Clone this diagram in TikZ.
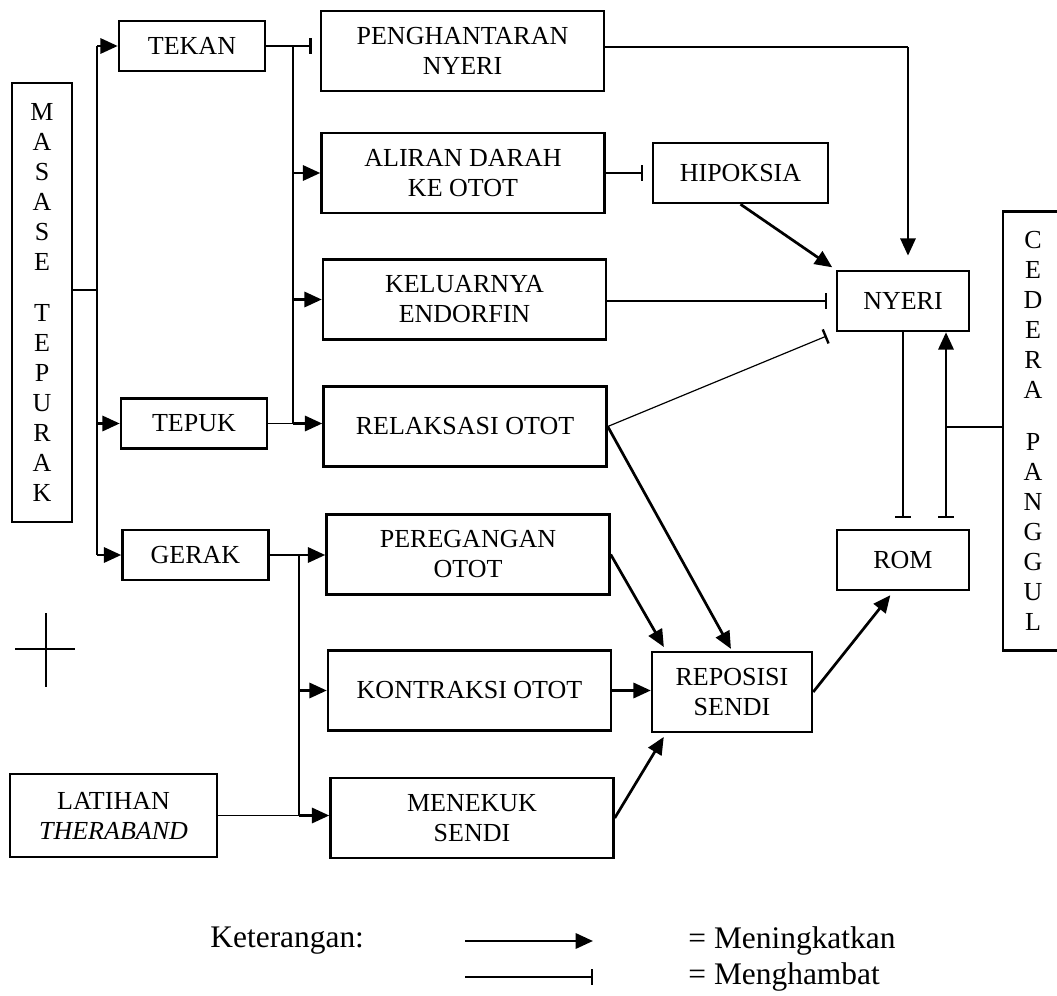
\documentclass[tikz,border=0pt]{standalone}
\usepackage{fontspec}
\setmainfont{Liberation Serif}
\usetikzlibrary{arrows.meta}

\begin{document}
\begin{tikzpicture}[x=0.4615pt, y=-0.4615pt,
    baseline={(current bounding box.center)},
    box/.style={draw, line width=1.15pt, align=center, inner sep=1pt,
        font=\fontsize{12}{13.85}\selectfont},
    tall/.style={box, minimum width=27.7pt, minimum height=202.6pt},
    small/.style={box, minimum width=67.4pt, minimum height=23.1pt},
    big/.style={box, minimum width=130.6pt, minimum height=36.9pt},
    mid/.style={box, minimum width=60.9pt, minimum height=27.7pt},
    thk/.style={line width=1.25pt},
    thn/.style={line width=0.55pt},
    inc/.style={thk, -{Triangle[length=8pt, width=7pt]}},
    inh/.style={thn, -{Bar[width=7pt, line width=1.1pt]}, shorten >=4pt},
    legend/.style={inner sep=0pt, anchor=west, font=\fontsize{14.5}{17}\selectfont}]
    \path[use as bounding box, clip] (0,0) rectangle (1057,996);

    % kotak kiri dan kanan:
    \node[tall] (masase) at (42,302.5) {M\\A\\S\\A\\S\\E\\[10pt]T\\E\\P\\U\\R\\A\\K};
    \node[tall] (cedera) at (1033,431) {C\\E\\D\\E\\R\\A\\[10pt]P\\A\\N\\G\\G\\U\\L};
    % teknik:
    \node[small] (tekan) at (192,46) {TEKAN};
    \node[small] (tepuk) at (194,423.5) {TEPUK};
    \node[small] (gerak) at (195.5,555) {GERAK};
    \node[box, minimum width=95.5pt, minimum height=38.3pt] (latihan) at (113.5,815.5) {LATIHAN\\\textit{THERABAND}};
    % efek:
    \node[big] (hantar) at (462.5,51) {PENGHANTARAN\\NYERI};
    \node[big] (aliran) at (463,173) {ALIRAN DARAH\\KE OTOT};
    \node[big] (endorfin) at (464.5,299.5) {KELUARNYA\\ENDORFIN};
    \node[big] (relaksasi) at (465,426.5) {RELAKSASI OTOT};
    \node[big] (regang) at (468,554.5) {PEREGANGAN\\OTOT};
    \node[big] (kontraksi) at (469.5,690.5) {KONTRAKSI OTOT};
    \node[big] (tekuk) at (472,818) {MENEKUK\\SENDI};
    \node[box, minimum width=80.8pt, minimum height=27.7pt] (hipoksia) at (740.5,173) {HIPOKSIA};
    \node[box, minimum width=73.8pt, minimum height=36.9pt] (reposisi) at (732,692) {REPOSISI\\SENDI};
    \node[mid] (nyeri) at (903,301) {NYERI};
    \node[mid] (rom) at (903,560) {ROM};

    % titik cabang:
    \coordinate (s1) at (97,290);
    \coordinate (s2) at (293,46);
    \coordinate (s3) at (299,555);
    \coordinate (s4) at (908,47);
    \coordinate (s5) at (946,427);

    % masase ke teknik:
    \draw[thk] (masase.east |- s1) -- (s1);
    \draw[thk] (s1 |- tekan.west) -- (s1 |- gerak.west);
    \foreach \n in {tekan,tepuk,gerak}
        \draw[inc] (s1 |- \n.west) -- (\n.west);

    % tekan dan tepuk:
    \draw[thk] (tekan.east) -- (s2);
    \draw[inh, shorten >=3.7pt] (s2) -- (hantar.west |- s2);
    \draw[thk] (s2) -- (s2 |- tepuk.east);
    \foreach \n in {aliran,endorfin}
        \draw[inc] (s2 |- \n.west) -- (\n.west);
    \draw[thn] (tepuk.east) -- (s2 |- tepuk.east);
    \draw[inc] (s2 |- tepuk.east) -- (relaksasi.west |- tepuk.east);

    % gerak dan latihan:
    \draw[thk] (gerak.east) -- (s3);
    \draw[inc] (s3) -- (regang.west |- s3);
    \draw[thk] (s3) -- (s3 |- latihan.east);
    \draw[inc] (s3 |- kontraksi.west) -- (kontraksi.west);
    \draw[thn] (latihan.east) -- (s3 |- latihan.east);
    \draw[inc] (s3 |- latihan.east) -- (tekuk.west |- latihan.east);

    % ke nyeri:
    \draw[thn] (s4 -| hantar.east) -- (s4);
    \draw[inc, shorten >=6.5pt] (s4) -- (s4 |- nyeri.north);
    \draw[inh] (aliran.east) -- (hipoksia.west);
    \draw[inc, shorten >=2pt] (hipoksia.south) -- (nyeri.north west);
    \draw[inh] (endorfin.east |- nyeri.west) -- (nyeri.west);
    \draw[inh, shorten >=4.5pt] (relaksasi.east) -- (nyeri.south west);

    % ke reposisi:
    \draw[inc, shorten >=1pt] (relaksasi.east) -- (reposisi.north);
    \draw[inc, shorten >=2pt] (regang.east) -- (reposisi.148);
    \draw[inc] (kontraksi.east) -- (reposisi.west |- kontraksi.east);
    \draw[inc, shorten >=2pt] (tekuk.east) -- (reposisi.212);

    % ROM:
    \draw[inc, shorten >=2.3pt] (reposisi.east) -- (rom.253);
    \draw[inh, shorten >=5pt] (nyeri.south) -- (rom.north);
    \draw[thn] (cedera.west |- s5) -- (s5);
    \draw[thk, {Bar[width=7pt, line width=1.1pt]}-{Triangle[length=8pt, width=7pt]}, shorten <=5pt]
        (s5 |- rom.north) -- (s5 |- nyeri.south);

    % tanda silang:
    \draw[thn] (46,613) -- (46,687);
    \draw[thn] (15,649) -- (75,649);

    % keterangan:
    \node[legend] (ket) at (210,941) {Keterangan:};
    \coordinate (la) at (465,941);
    \coordinate (lb) at (593,941);
    \coordinate (lc) at (465,977);
    \coordinate (ld) at (593,977);
    \draw[inc] (la) -- (lb);
    \draw[inh, shorten >=0pt] (lc) -- (ld);
    \node[legend] (naik) at (688,941) {= Meningkatkan};
    \node[legend] (turun) at (688,977) {= Menghambat};
\end{tikzpicture}
\end{document}
